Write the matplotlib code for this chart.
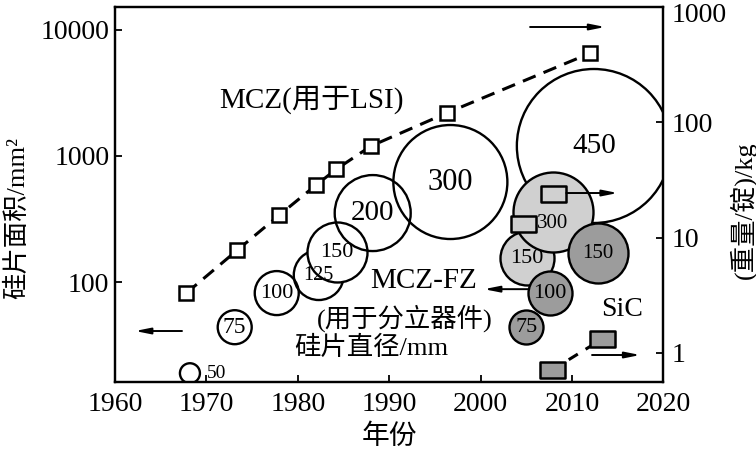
import matplotlib
matplotlib.use('Agg')

import numpy as np
import matplotlib.pyplot as plt
import matplotlib.transforms as mtransforms
from matplotlib.path import Path
from matplotlib.ticker import NullLocator

plt.rcParams['font.family'] = ['Liberation Serif', 'Noto Sans CJK SC']

# =========================
# Data
# =========================

# MCZ (for LSI): ingot weight per ingot, kg -> right axis
mcz_years = [1967.8, 1973.4, 1978.0, 1982.0, 1984.2, 1988.0, 1996.3, 2012.0]
mcz_weight = [3.3, 7.8, 15.7, 28.5, 39, 62, 120, 396]

# wafer bubbles, MCZ (white) -> left axis, labelled with diameter/mm
cz_years = [1968.2, 1973.1, 1977.7, 1982.3, 1984.3, 1988.2, 1996.7, 2012.4]
cz_area = [19, 44, 82, 114, 173, 353, 622, 1200]
cz_diam = [50, 75, 100, 125, 150, 200, 300, 450]

# MCZ-FZ bubbles (light grey / dark grey)
fz_light_years = [2005.1, 2007.9]
fz_light_area = [155, 359]
fz_light_diam = [150, 300]

fz_dark_years = [2012.8, 2007.6, 2005.0]
fz_dark_area = [170, 82, 44]
fz_dark_diam = [150, 100, 75]

# MCZ-FZ ingot weight, kg -> right axis
fz_weight_years = [2004.7, 2007.9]
fz_weight = [13.1, 23.8]

# SiC ingot weight, kg -> right axis
sic_years = [2007.8, 2013.3]
sic_weight = [0.71, 1.32]

xticks = [1960, 1970, 1980, 1990, 2000, 2010, 2020]
left_ticks = [100, 1000, 10000]
right_ticks = [1, 10, 100, 1000]

# =========================
# Drawing styles
# =========================
cz_radius = [10, 17, 22, 25, 30, 38, 57, 77]       # px
cz_fs = [14, 17, 16, 14.5, 16, 21, 22, 21]
light_radius = [27, 40]
light_fs = [16, 15]
dark_radius = [30, 22, 17]
dark_fs = [15, 16, 16]

LIGHT = '#d0d0d0'
DARK = '#9c9c9c'
LW = 1.7


def msize(r_px):
    # scatter size (pt^2) for a circle of radius r_px pixels at dpi 100
    return (2 * r_px * 0.72) ** 2


rect = Path([(-0.8, -0.5), (0.8, -0.5), (0.8, 0.5), (-0.8, 0.5), (-0.8, -0.5)],
            [Path.MOVETO, Path.LINETO, Path.LINETO, Path.LINETO, Path.CLOSEPOLY])

fig = plt.figure(figsize=(7.56, 4.54), dpi=100)
ax = fig.add_axes([0.1521, 0.1579, 0.7253, 0.8273])
ax.set_yscale('log')
ax.set_xlim(1960, 2020)
ax.set_ylim(16.1, 15230)

# white MCZ bubbles
for i, (x, y, d, r, fs) in enumerate(zip(cz_years, cz_area, cz_diam, cz_radius, cz_fs)):
    face = 'white' if d == 150 else 'none'
    ax.scatter([x], [y], s=msize(r), facecolor=face, edgecolor='black',
               linewidth=LW, zorder=2 + i * 0.01)
    if d == 50:
        ax.annotate(str(d), (x, y), xytext=(12, 0), textcoords='offset points',
                    fontsize=fs, va='center', ha='left')
    else:
        ax.text(x, y, str(d), fontsize=fs, ha='center', va='center', zorder=3)

# grey MCZ-FZ bubbles
for i, (x, y, d, r, fs) in enumerate(zip(fz_light_years, fz_light_area, fz_light_diam,
                                          light_radius, light_fs)):
    ax.scatter([x], [y], s=msize(r), facecolor=LIGHT, edgecolor='black',
               linewidth=LW, zorder=4 + i * 0.01)
    dy = -8 if d == 300 else 0
    ax.annotate(str(d), (x, y), xytext=(0, dy), textcoords='offset points',
                fontsize=fs, ha='center', va='center', zorder=4.5)

for i, (x, y, d, r, fs) in enumerate(zip(fz_dark_years, fz_dark_area, fz_dark_diam,
                                          dark_radius, dark_fs)):
    ax.scatter([x], [y], s=msize(r), facecolor=DARK, edgecolor='black',
               linewidth=LW, zorder=5 + i * 0.1)
    ax.text(x, y, str(d), fontsize=fs, ha='center', va='center', zorder=5.05 + i * 0.1)

ax.set_xticks(xticks)
ax.set_xticklabels([str(t) for t in xticks])
ax.set_yticks(left_ticks)
ax.set_yticklabels([str(t) for t in left_ticks])
ax.yaxis.set_minor_locator(NullLocator())
ax.tick_params(direction='in', length=5, width=1.3, labelsize=20)
ax.tick_params(axis='x', pad=7)
ax.tick_params(axis='y', pad=4)
for s in ax.spines.values():
    s.set_linewidth(1.6)

# right axis: weight
ax2 = ax.twinx()
ax2.set_yscale('log')
ax2.set_ylim(0.557, 1000)
ax2.plot(mcz_years, mcz_weight, color='black', lw=2.2, linestyle=(0, (4.5, 2.8)),
         marker='s', markersize=10, markerfacecolor='white', markeredgecolor='black',
         markeredgewidth=1.8, zorder=3)
ax2.plot(fz_weight_years, fz_weight, linestyle='none', marker=rect, markersize=18,
         markerfacecolor=LIGHT, markeredgecolor='black', markeredgewidth=1.8, zorder=3)
ax2.plot(sic_years, sic_weight, color='black', lw=2.2, linestyle=(0, (3.5, 3)),
         marker=rect, markersize=18, markerfacecolor=DARK, markeredgecolor='black',
         markeredgewidth=1.8, zorder=3)
ax2.set_yticks(right_ticks)
ax2.set_yticklabels([str(t) for t in right_ticks])
ax2.yaxis.set_minor_locator(NullLocator())
ax2.tick_params(direction='in', length=5, width=1.3, labelsize=20, pad=6)
for s in ax2.spines.values():
    s.set_linewidth(1.6)

# nudge the top right label down so it stays inside the figure
fig.canvas.draw()
top_lab = ax2.get_yticklabels()[-1]
top_lab.set_transform(top_lab.get_transform() +
                      mtransforms.ScaledTranslation(0, -4 / 72, fig.dpi_scale_trans))

# arrows that point to the axis each series belongs to
arrow = dict(arrowstyle='-|>,head_length=0.9,head_width=0.18', color='black', lw=1.4,
             shrinkA=0, shrinkB=0)
for x0, x1, y in [(0.1222, 0.0365, 0.1366), (0.757, 0.894, 0.946),
                  (0.823, 0.917, 0.504), (0.753, 0.673, 0.248), (0.870, 0.958, 0.0727)]:
    ax2.annotate('', xy=(x1, y), xytext=(x0, y), xycoords='axes fraction',
                 textcoords='axes fraction', arrowprops=arrow, zorder=6)

# text labels
ax2.text(0.359, 0.752, 'MCZ(用于LSI)', transform=ax.transAxes, fontsize=21,
         ha='center', va='center')
ax2.text(0.562, 0.270, 'MCZ-FZ', transform=ax.transAxes, fontsize=21,
         ha='center', va='center')
ax2.text(0.529, 0.171, '(用于分立器件)', transform=ax.transAxes, fontsize=19,
         ha='center', va='center')
ax2.text(0.467, 0.091, '硅片直径/mm', transform=ax.transAxes, fontsize=19,
         ha='center', va='center')
ax2.text(0.925, 0.195, 'SiC', transform=ax.transAxes, fontsize=20,
         ha='center', va='center')

fig.text(389 / 756, 1 - 437 / 454, '年份', fontsize=20, ha='center', va='center')
fig.text(17 / 756, 1 - 218 / 454, '硅片面积/mm²', fontsize=19, rotation=90,
         ha='center', va='center')
fig.text(743 / 756, 1 - 210 / 454, '(重量/锭)/kg', fontsize=19, rotation=90,
         ha='center', va='center')

fig.savefig('out.png', dpi=100)
